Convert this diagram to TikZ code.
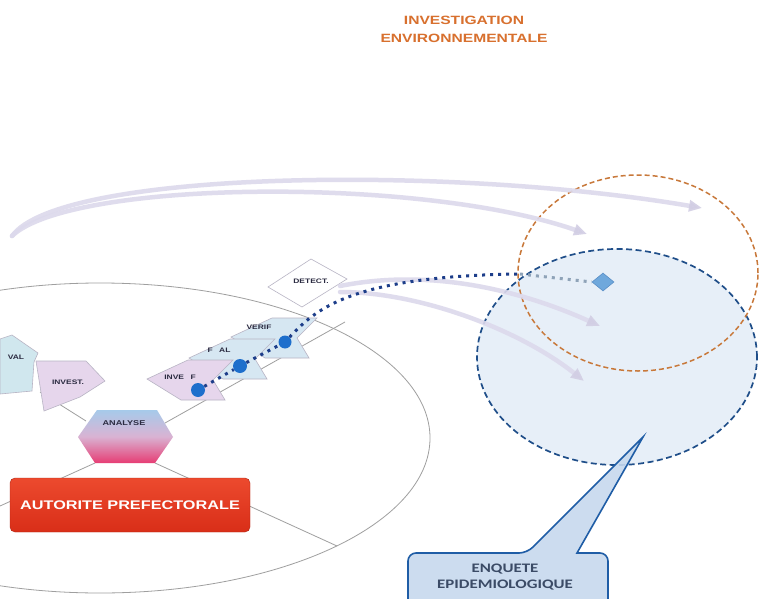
\documentclass[tikz,border=0pt]{standalone}
\usepackage{fontspec}
\setmainfont{Liberation Sans}
\newfontfamily\sansw[FakeStretch=1.3]{Liberation Sans}
\newfontfamily\calw[FakeStretch=1.3]{Carlito}
\usetikzlibrary{arrows.meta,shapes.geometric}
\definecolor{titleor}{HTML}{D8702E}
\definecolor{arrowc}{HTML}{DCD9EC}
\definecolor{arrowtip}{HTML}{D2CEE4}
\definecolor{epifill}{HTML}{E7EFF8}
\definecolor{epiline}{HTML}{1F4E89}
\definecolor{envline}{HTML}{C8783A}
\definecolor{dotblue}{HTML}{1D3E8A}
\definecolor{dotgray}{HTML}{8FA3B8}
\definecolor{bigblue}{HTML}{1E6FCC}
\definecolor{diafill}{HTML}{6FA8DC}
\definecolor{diadraw}{HTML}{5A8FC6}
\definecolor{lav}{HTML}{E6D6EC}
\definecolor{lblue}{HTML}{D6E7F2}
\definecolor{valc}{HTML}{D0E7EE}
\definecolor{chevline}{HTML}{B8B4C4}
\definecolor{redtop}{HTML}{EC4A2E}
\definecolor{redbot}{HTML}{D92E18}
\definecolor{hextop}{HTML}{A6CAEA}
\definecolor{hexmid}{HTML}{D9B3D3}
\definecolor{hexbot}{HTML}{E63D74}
\definecolor{callfill}{HTML}{C7D9EE}
\definecolor{calldraw}{HTML}{1F5DA6}
\definecolor{calltext}{HTML}{3B4B66}
\definecolor{labtext}{HTML}{2A2A40}
% horizontal left-pointing chevron, seen in perspective; #1 = tip
\newcommand\rchev[2]{\filldraw[#2] (#1) -- ++(41,-19) -- ++(45,0) -- ++(-20,20) -- ++(12,20) -- ++(-44,0) -- cycle;}
\begin{document}
\begin{tikzpicture}[x=1pt,y=-1pt,
  bigarr/.style={draw=arrowc, line width=4.5pt, line cap=round, opacity=0.9,
     -{Triangle[length=13pt,width=11pt,color=arrowtip]}},
  dotline/.style={draw=dotblue, line width=3pt, dash pattern=on 3pt off 5pt},
  dotgrayline/.style={draw=dotgray, line width=3pt, dash pattern=on 3pt off 5pt},
  spoke/.style={draw=gray!75, line width=0.8pt},
  chevr/.style={draw=chevline, line width=0.6pt},
  smalllab/.style={font=\sansw\bfseries\fontsize{6.5}{7}\selectfont, text=labtext, inner sep=0},
  midlab/.style={font=\sansw\bfseries\fontsize{7}{8}\selectfont, text=labtext, inner sep=0},
  bigdot/.style={circle, fill=bigblue, inner sep=0, minimum size=15pt},
]
\useasboundingbox (0,0) rectangle (760,599);
\clip (0,0) rectangle (760,599);
\fill[white] (0,0) rectangle (760,599);

% big grey ellipse
\draw[spoke] (100,438) ellipse [x radius=330pt, y radius=155pt];

% epidemiological (blue) and environmental (orange) zones
\fill[epifill] (617,357) ellipse [x radius=140pt, y radius=108pt];
\draw[epiline, line width=1.7pt, dash pattern=on 6pt off 3.5pt] (617,357) ellipse [x radius=140pt, y radius=108pt];
\draw[envline, line width=1.5pt, dash pattern=on 5pt off 3pt] (638,273) ellipse [x radius=120pt, y radius=98pt];

% spokes
\coordinate (hexTL) at (97,410);
\coordinate (hexTR) at (157,410);
\coordinate (hexL) at (78,437);
\coordinate (hexR) at (173,437);
\coordinate (hexBR) at (155,463);
\coordinate (hexBL) at (95,463);
\coordinate (sp1) at (337,546);
\coordinate (sp2) at (0,506);
\coordinate (trR) at (345,322);
\coordinate (trL) at (40,392);
\draw[spoke] (hexBR) -- (sp1);
\draw[spoke] (hexBL) -- (sp2);
\draw[spoke] (hexR) ++(-8,-14) -- (trR);
\draw[spoke] (hexL) ++(8,-16) -- (trL);

% left track chevrons
\filldraw[chevr, fill=valc] (0,339) -- (12,335) -- (38,353) -- (34,362) -- (32,391) -- (0,394) -- cycle;
\filldraw[chevr, fill=lav] (36,361) -- (86,361) -- (105,381) -- (80,397) -- (44,411) -- (40,386) -- cycle;
\node[smalllab] (val) at (16,357) {VAL};
\node[smalllab] (invest) at (68,382) {INVEST.};

% right track chevrons (back to front)
\rchev{231,337}{chevr, fill=lblue}
\rchev{189,358}{chevr, fill=lblue}
\rchev{147,379}{chevr, fill=lav}
\filldraw[chevr, fill=white] (268,287) -- (311,259) -- (347,279) -- (302,307) -- cycle;
\node[smalllab] (invef) at (180,377) {INVE\quad F};
\node[smalllab] (fal) at (219,350) {F\quad AL};
\node[smalllab] (verif) at (259,327) {VERIF};
\node[smalllab] (detect) at (311,281) {DETECT.};

% lavender arrows
\coordinate (a1s) at (12,236);
\coordinate (a1e) at (702,208);
\coordinate (a2e) at (587,234);
\coordinate (a3s) at (340,286);
\coordinate (a3e) at (600,326);
\coordinate (a4s) at (340,292);
\coordinate (a4e) at (584,381);
\draw[bigarr] (a1s) .. controls (60,170) and (450,165) .. (a1e);
\draw[bigarr] (a1s) .. controls (70,180) and (420,176) .. (a2e);
\draw[bigarr] (a3s) .. controls (430,268) and (520,290) .. (a3e);
\draw[bigarr] (a4s) .. controls (420,292) and (520,330) .. (a4e);

% blue dotted path with big dots
\node[bigdot, minimum size=14pt] (b1) at (198,390) {};
\node[bigdot, minimum size=14pt] (b2) at (240,366) {};
\node[bigdot, minimum size=13pt] (b3) at (285,342) {};
\node[diamond, aspect=1.22, minimum width=22pt, minimum height=18pt, inner sep=0,
      fill=diafill, draw=diadraw, line width=0.6pt] (dia) at (603,282) {};
\coordinate (dEnd) at (520,274);
\draw[dotline] (b1) -- (b2) -- (b3) .. controls (315,310) and (350,276) .. (dEnd);
\draw[dotgrayline] (dEnd) -- (dia.west);

% analyse hexagon
\shade[top color=hextop, bottom color=hexbot, middle color=hexmid]
  (hexL) -- (hexTL) -- (hexTR) -- (hexR) -- (hexBR) -- (hexBL) -- cycle;
\node[midlab] (analyse) at (124,423) {ANALYSE};

% autorite prefectorale
\node[rounded corners=5pt, top color=redtop, bottom color=redbot, draw=redbot!80!black, line width=0.4pt,
      minimum width=240pt, minimum height=54pt, inner sep=0,
      font=\sansw\bfseries\fontsize{12.5}{14}\selectfont, text=white] (autorite) at (130,505) {AUTORITE PREFECTORALE};

% callout
\coordinate (ctip) at (643,437);
\filldraw[fill=callfill, draw=calldraw, line width=1.6pt, fill opacity=0.9]
  (408,620) [rounded corners=8pt] -- (408,553) -- (527,553) [sharp corners] -- (ctip) -- (577,553) [rounded corners=8pt] -- (608,553) -- (608,620);
\node[font=\calw\bfseries\fontsize{13}{16}\selectfont, text=calltext, align=center, inner sep=0] (enq) at (505,577) {ENQUETE\\EPIDEMIOLOGIQUE};

% title
\node[font=\sansw\bfseries\fontsize{12}{18}\selectfont, text=titleor, align=center, inner sep=0] (title) at (464,29) {INVESTIGATION\\ENVIRONNEMENTALE};
\end{tikzpicture}
\end{document}
